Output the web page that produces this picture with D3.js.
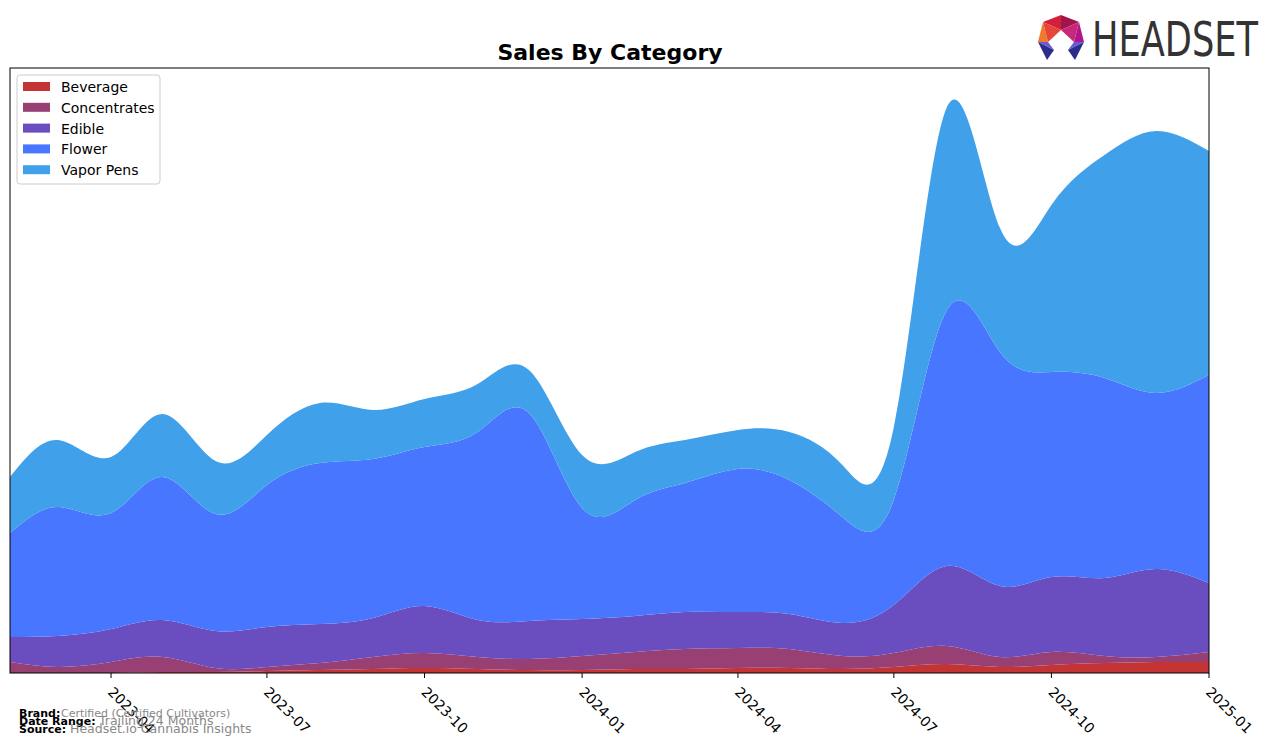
<!DOCTYPE html>
<html><head><meta charset="utf-8">
<script src="https://cdn.jsdelivr.net/npm/d3@7"></script>
<style>body{margin:0;background:#fff;font-family:"DejaVu Sans",sans-serif}</style>
</head><body><svg id="c" width="1276" height="746"></svg>
<script>
const months = ["2023-02","2023-03","2023-04","2023-05","2023-06","2023-07","2023-08","2023-09","2023-10","2023-11","2023-12",
"2024-01","2024-02","2024-03","2024-04","2024-05","2024-06","2024-07","2024-08","2024-09","2024-10","2024-11","2024-12","2025-01"];
const categories = ["Beverage","Concentrates","Edible","Flower","Vapor Pens"];
const beverage     = [0,0,0,1,1,2,3,4,5,4,3,3,4,4,5,5,4,6,9,6,8,10,11,11];
const concentrates = [11,6,11,15,4,4,7,12,15,12,11,14,17,20,20,19,13,14,18,10,13,7,5,10];
const edible       = [25,31,33,37,37,40,39,39,47,37,38,37,36,37,36,35,33,48,80,71,75,78,88,69];
const flower       = [104,129,116,143,117,142,161,159,159,188,208,111,116,129,143,134,106,105,256,234,205,200,176,208];
const vaporPens    = [56,67,56,63,53,50,60,49,48,48,43,53,48,43,39,48,52,73,203,124,167,223,262,224];
const tickLabels = ["2023-04","2023-07","2023-10","2024-01","2024-04","2024-07","2024-10","2025-01"];
const colors = ["#c43434","#983f74","#6a4dbe","#4876ff","#40a0e9"];

const svg = d3.select("#c");
const L=10,R=1209,T=68,B=673;
const parse = d3.timeParse("%Y-%m");
const rows = months.map((m,i)=>({date:parse(m),"Beverage":beverage[i],"Concentrates":concentrates[i],"Edible":edible[i],"Flower":flower[i],"Vapor Pens":vaporPens[i]}));
const x = d3.scaleTime().domain(d3.extent(rows,d=>d.date)).range([L,R]);
const stack = d3.stack().keys(categories)(rows);
const maxTot = d3.max(rows,d=>categories.reduce((s,k)=>s+d[k],0));
const y = d3.scaleLinear().domain([0,maxTot*1.069]).range([B,T]);

svg.append("defs").append("clipPath").attr("id","clip").append("rect").attr("x",L).attr("y",T).attr("width",R-L).attr("height",B-T);
const area = d3.area().x(d=>x(d.data.date)).y0(d=>y(d[0])).y1(d=>y(d[1])).curve(d3.curveNatural);
svg.append("g").attr("clip-path","url(#clip)").selectAll("path").data(stack).join("path")
  .attr("d",area).attr("fill",(d,i)=>colors[i]);

svg.append("rect").attr("x",L).attr("y",T).attr("width",R-L).attr("height",B-T).attr("fill","none").attr("stroke","#000").attr("stroke-width",1);

// x axis
const ticks = tickLabels.map(parse);
const ax = svg.append("g");
ax.selectAll("line").data(ticks).join("line").attr("x1",d=>x(d)).attr("x2",d=>x(d)).attr("y1",B).attr("y2",B+5).attr("stroke","#000");
ax.selectAll("text").data(ticks).join("text")
  .attr("transform",d=>`translate(${x(d)+3},${B+13}) rotate(45)`)
  .attr("font-size",14).attr("fill","#000").attr("dy","0.7em").text(d=>d3.timeFormat("%Y-%m")(d));

// title
svg.append("text").attr("x",610).attr("y",60).attr("text-anchor","middle").attr("font-size",22).attr("font-weight","bold").text("Sales By Category");

// legend
const lg = svg.append("g");
lg.append("rect").attr("x",17).attr("y",75).attr("width",143).attr("height",109).attr("rx",3).attr("fill","#fff").attr("fill-opacity",0.8).attr("stroke","#ccc");
categories.forEach((c,i)=>{
  const yy = 87 + i*20.8;
  lg.append("rect").attr("x",23).attr("y",yy-5).attr("width",27).attr("height",9).attr("fill",colors[i]);
  lg.append("text").attr("x",61).attr("y",yy+5).attr("font-size",14).text(c);
});

// footer
const ft = [["Brand:","Certified (Certified Cultivators)",717,11,61],["Date Range:","Trailing 24 Months",725,12.5,99],["Source:","Headset.io Cannabis Insights",733,12.5,70]];
ft.forEach(f=>{
  svg.append("text").attr("x",19).attr("y",f[2]).attr("font-size",11).attr("font-weight","bold").text(f[0]);
  svg.append("text").attr("x",f[4]).attr("y",f[2]).attr("font-size",f[3]).attr("fill","#888").text(f[1]);
});

// logo
const lgo = svg.append("g");
const polys = [
  [[1043,22],[1061,15],[1061,30],"#d21f3c"],
  [[1061,15],[1079,22],[1061,30],"#a0154a"],
  [[1043,22],[1038,42],[1048,42],"#f07a2a"],
  [[1043,22],[1061,30],[1048,42],"#e8453a"],
  [[1079,22],[1084,42],[1074,42],"#b0168a"],
  [[1079,22],[1061,30],[1074,42],"#c8287a"],
  [[1038,42],[1048,42],[1054,50],"#6a5ad8"],
  [[1038,42],[1054,50],[1047,60],"#2c2c8a"],
  [[1084,42],[1074,42],[1068,50],"#6a5ad8"],
  [[1084,42],[1068,50],[1075,60],"#2c2c8a"]
];
polys.forEach(p=>lgo.append("polygon").attr("points",p.slice(0,3).map(q=>q.join(",")).join(" ")).attr("fill",p[3]));
lgo.append("text").attr("x",1092).attr("y",56).attr("font-family","'Liberation Sans Narrow','DejaVu Sans Condensed',sans-serif")
  .attr("font-size",48).attr("fill","#333").attr("textLength",166).attr("lengthAdjust","spacingAndGlyphs").text("HEADSET");
</script></body></html>
